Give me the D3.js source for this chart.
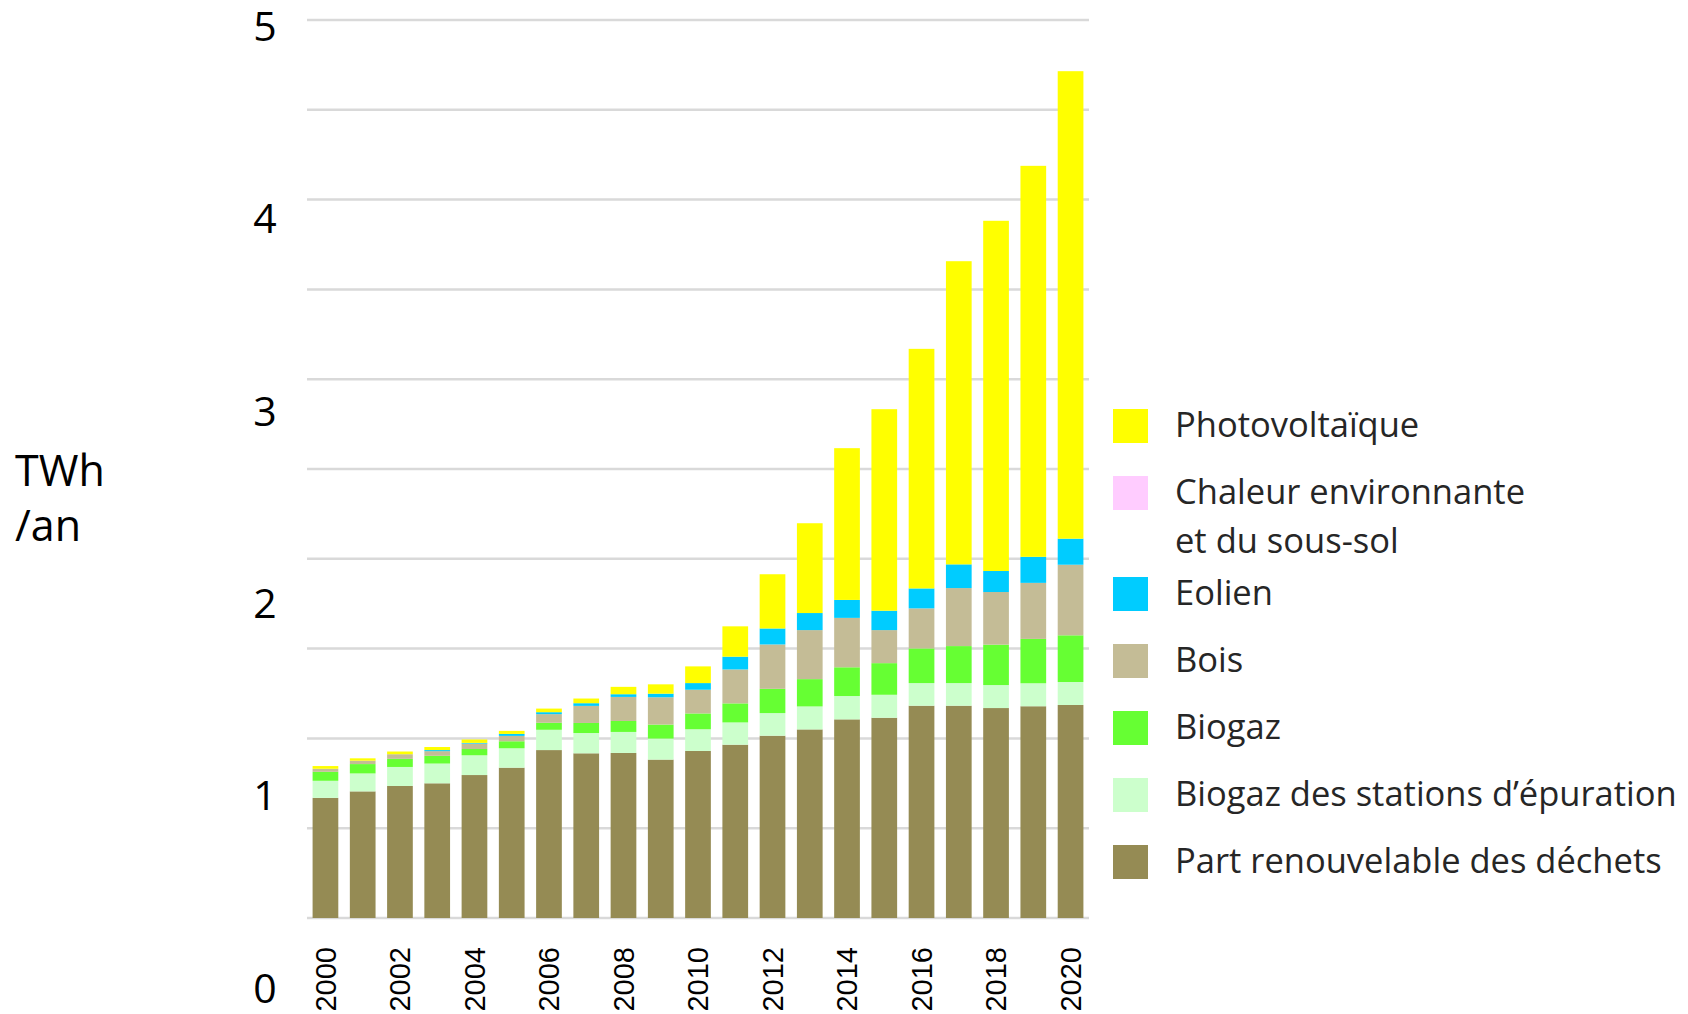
<!DOCTYPE html>
<html>
<head>
<meta charset="utf-8">
<script src="https://cdn.jsdelivr.net/npm/d3@7"></script>
<style>
  body { margin: 0; background: #fff; }
  svg { display: block; }
</style>
</head>
<body>
<svg id="chart" width="1688" height="1014"></svg>
<script>
const years = [2000, 2001, 2002, 2003, 2004, 2005, 2006, 2007, 2008, 2009, 2010,
  2011, 2012, 2013, 2014, 2015, 2016, 2017, 2018, 2019, 2020];

// TWh/an
const dechets = [0.669, 0.705, 0.735, 0.750, 0.796, 0.837, 0.935, 0.917, 0.919, 0.882, 0.930,
  0.965, 1.015, 1.050, 1.106, 1.115, 1.182, 1.182, 1.169, 1.179, 1.186];
const biogazStep = [0.095, 0.100, 0.106, 0.110, 0.110, 0.108, 0.113, 0.113, 0.117, 0.117, 0.121,
  0.124, 0.126, 0.128, 0.130, 0.128, 0.126, 0.126, 0.128, 0.128, 0.128];
const biogaz = [0.050, 0.052, 0.045, 0.043, 0.035, 0.039, 0.039, 0.056, 0.061, 0.078, 0.088,
  0.106, 0.135, 0.152, 0.160, 0.176, 0.193, 0.206, 0.225, 0.247, 0.260];
const bois = [0.017, 0.019, 0.026, 0.026, 0.030, 0.030, 0.048, 0.095, 0.134, 0.152, 0.132,
  0.189, 0.247, 0.273, 0.275, 0.184, 0.223, 0.323, 0.293, 0.312, 0.393];
const eolien = [0, 0, 0, 0.006, 0.004, 0.011, 0.011, 0.015, 0.015, 0.020, 0.037,
  0.071, 0.089, 0.095, 0.100, 0.108, 0.111, 0.132, 0.117, 0.145, 0.145];
const chaleur = [0, 0, 0, 0, 0, 0, 0, 0, 0, 0, 0,
  0, 0, 0, 0, 0, 0, 0, 0, 0, 0];
const photovoltaique = [0.015, 0.013, 0.015, 0.017, 0.019, 0.017, 0.020, 0.026, 0.041, 0.052, 0.093,
  0.169, 0.302, 0.500, 0.845, 1.122, 1.334, 1.688, 1.950, 2.177, 2.603];

const yTicks = [0, 1, 2, 3, 4, 5];
const yearLabels = [2000, 2002, 2004, 2006, 2008, 2010, 2012, 2014, 2016, 2018, 2020];

// stack order, bottom to top
const series = [
  { key: 'dechets', values: dechets, color: '#958b54', label: ['Part renouvelable des déchets'] },
  { key: 'step', values: biogazStep, color: '#ccffcc', label: ['Biogaz des stations d’épuration'] },
  { key: 'biogaz', values: biogaz, color: '#66ff33', label: ['Biogaz'] },
  { key: 'bois', values: bois, color: '#c4bc96', label: ['Bois'] },
  { key: 'eolien', values: eolien, color: '#00ccff', label: ['Eolien'] },
  { key: 'chaleur', values: chaleur, color: '#ffccff', label: ['Chaleur environnante', 'et du sous-sol'] },
  { key: 'pv', values: photovoltaique, color: '#ffff00', label: ['Photovoltaïque'] },
];

const rows = years.map((yr, i) => {
  const r = { year: yr };
  series.forEach(s => { r[s.key] = s.values[i]; });
  return r;
});

const svg = d3.select('#chart');

const x = d3.scaleBand()
  .domain(years)
  .range([307, 1089])
  .paddingInner(0.31)
  .paddingOuter(0.15);

const y = d3.scaleLinear().domain([0, 5]).range([918, 20]);

// the value labels of the original sit on their own, not on the gridlines
const yLabel = d3.scaleLinear().domain([0, 5]).range([988, 26]);

// gridlines every 0.5
svg.append('g')
  .selectAll('line')
  .data(y.ticks(10))
  .join('line')
  .attr('x1', 307)
  .attr('x2', 1089)
  .attr('y1', d => y(d))
  .attr('y2', d => y(d))
  .attr('stroke', '#d9d9d9')
  .attr('stroke-width', 2.5);

const stack = d3.stack().keys(series.map(s => s.key));
const layers = stack(rows);

svg.append('g')
  .selectAll('g')
  .data(layers)
  .join('g')
  .attr('fill', (d, i) => series[i].color)
  .selectAll('rect')
  .data(d => d)
  .join('rect')
  .attr('x', d => x(d.data.year))
  .attr('width', x.bandwidth())
  .attr('y', d => y(d[1]))
  .attr('height', d => y(d[0]) - y(d[1]));

// y labels
svg.append('g')
  .attr('font-family', '"Open Sans", sans-serif')
  .attr('font-size', 41)
  .attr('fill', '#000')
  .attr('text-anchor', 'middle')
  .selectAll('text')
  .data(yTicks)
  .join('text')
  .attr('x', 265)
  .attr('y', d => yLabel(d))
  .attr('dy', '0.36em')
  .text(d => d);

const unit = svg.append('text')
  .attr('font-family', '"Open Sans", sans-serif')
  .attr('font-size', 43)
  .attr('fill', '#000');
unit.append('tspan').attr('x', 15).attr('y', 486).text('TWh');
unit.append('tspan').attr('x', 15).attr('y', 541).text('/an');

// year labels, rotated
svg.append('g')
  .attr('font-family', '"Liberation Sans", Arial, sans-serif')
  .attr('font-size', 29)
  .attr('fill', '#000')
  .selectAll('text')
  .data(yearLabels)
  .join('text')
  .attr('transform', d => `translate(${x(d) + x.bandwidth() / 2},947) rotate(-90)`)
  .attr('text-anchor', 'end')
  .attr('dy', '0.36em')
  .text(d => d);

// legend, top to bottom
const legendItems = series.slice().reverse();
const legend = svg.append('g')
  .attr('font-family', '"Open Sans", sans-serif')
  .attr('font-size', 34.5)
  .attr('fill', '#262626');

let ly = 409;
legendItems.forEach(s => {
  legend.append('rect')
    .attr('x', 1113)
    .attr('y', ly)
    .attr('width', 35)
    .attr('height', 34)
    .attr('fill', s.color);
  s.label.forEach((line, j) => {
    legend.append('text')
      .attr('x', 1175)
      .attr('y', ly + 16 + j * 49)
      .attr('dy', '0.35em')
      .text(line);
  });
  ly += 67 + (s.label.length - 1) * 34;
});
</script>
</body>
</html>
